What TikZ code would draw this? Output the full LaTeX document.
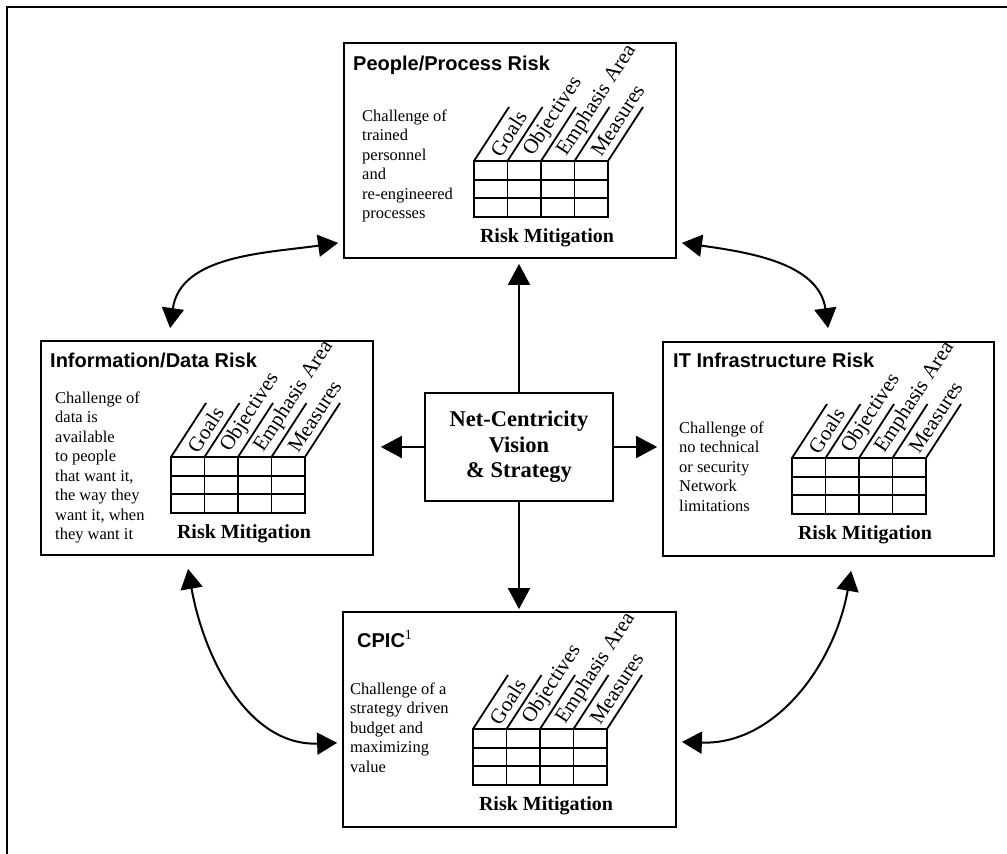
\documentclass[tikz,border=0pt]{standalone}
\usepackage{fontspec}
\setmainfont{Liberation Serif}
\setsansfont{Liberation Sans}
\usetikzlibrary{arrows.meta,calc}
\newcommand\rmtable[3]{%
  \begin{scope}[shift={(#2,-#3)}]
    \draw[tbl] (0,0) rectangle (134,-56);
    \foreach \i in {1,2,3} \draw[tbl] (\i*33.5,0) -- (\i*33.5,-56);
    \foreach \j in {1,2} \draw[tbl] (0,-\j*18.67) -- (134,-\j*18.67);
    \foreach \i in {0,...,4} \draw[tbl] (\i*33.5,0) -- ++(35,54);
    \foreach \t [count=\k from 0] in {Goals,Objectives,Emphasis Area,Measures}
      \node[lbl] (#1-\k) at ($(\k*33.5+16.75,0)+(57:8)$) {\t};
    \node[rm] (#1-rm) at (73,-81) {Risk Mitigation};
  \end{scope}}
\begin{document}
\begin{tikzpicture}[x=1pt,y=1pt,
  frame/.style={line width=2pt},
  riskbox/.style={draw,line width=1.8pt,inner sep=0pt},
  tbl/.style={line width=1.8pt},
  hdr/.style={font=\sffamily\bfseries\fontsize{20}{24}\selectfont,anchor=base west,inner sep=0pt},
  body/.style={font=\fontsize{16.5}{19.5}\selectfont,align=left,anchor=base west,inner sep=0pt},
  lbl/.style={font=\fontsize{21}{24}\selectfont,rotate=57,anchor=west,inner sep=0pt},
  rm/.style={font=\bfseries\fontsize{20}{24}\selectfont,anchor=base,inner sep=0pt},
  arr/.style={line width=2pt,-{Triangle[length=21pt,width=22pt]}},
  dbl/.style={line width=2pt,{Triangle[length=20pt,width=22pt]}-{Triangle[length=20pt,width=22pt]}},
]
\useasboundingbox (0,0) rectangle (1007,-854);
\draw[frame] (7,-854) -- (7,-7) -- (1007,-7);

% boxes
\node[riskbox,minimum width=332pt,minimum height=215pt] (people) at (510,-150.5) {};
\node[riskbox,minimum width=332pt,minimum height=214pt] (info) at (207,-448) {};
\node[riskbox,minimum width=331pt,minimum height=214pt] (it) at (828.5,-449) {};
\node[riskbox,minimum width=333pt,minimum height=215pt] (cpic) at (509.5,-719.5) {};
\node[riskbox,minimum width=188pt,minimum height=108pt,align=center,
      font=\bfseries\fontsize{22.5}{25.5}\selectfont] (center) at (519,-447)
      {Net-Centricity\\Vision\\\& Strategy};

% headers
\node[hdr] (people-h) at (353,-70) {People/Process Risk};
\node[hdr] (info-h) at (50,-367) {Information/Data Risk};
\node[hdr] (it-h) at (673,-367) {IT Infrastructure Risk};
\node[hdr] (cpic-h) at (357,-647) {CPIC\textsuperscript{\rmfamily\mdseries 1}};

% body texts (anchored at the baseline of the last line)
\node[body] (people-b) at (362,-218.5) {Challenge of\\trained\\personnel\\and\\re-engineered\\processes};
\node[body] (info-b) at (55,-539.5) {Challenge of\\data is\\available\\to people\\that want it,\\the way they\\want it, when\\they want it};
\node[body] (it-b) at (679,-511) {Challenge of\\no technical\\or security\\Network\\limitations};
\node[body] (cpic-b) at (350,-772) {Challenge of a\\strategy driven\\budget and\\maximizing\\value};

% tables
\rmtable{pt}{474}{161}
\rmtable{it}{171}{457}
\rmtable{tt}{792}{458}
\rmtable{ct}{473}{729}

% straight arrows
\draw[arr,shorten >=5pt] (center.north) -- (center.north |- people.south);
\draw[arr,shorten >=2pt] (center.south) -- (center.south |- cpic.north);
\draw[arr,shorten >=7pt] (center.west) -- (center.west -| info.east);
\draw[arr,shorten >=5pt] (center.east) -- (center.east -| it.west);

% curved double arrows
\draw[dbl] ([xshift=130pt,yshift=12pt]info.north west) to[out=82,in=188] ([xshift=-5pt,yshift=16pt]people.south west);
\draw[dbl] ([xshift=5pt,yshift=16pt]people.south east) to[out=-8,in=98] ([xshift=166pt,yshift=13pt]it.north west);
\draw[dbl] ([xshift=148pt,yshift=-13pt]info.south west) to[out=-80,in=182] ([xshift=-5pt,yshift=85pt]cpic.south west);
\draw[dbl] ([xshift=189pt,yshift=-14pt]it.south west) to[out=-100,in=-2] ([xshift=5pt,yshift=86pt]cpic.south east);
\end{tikzpicture}
\end{document}
